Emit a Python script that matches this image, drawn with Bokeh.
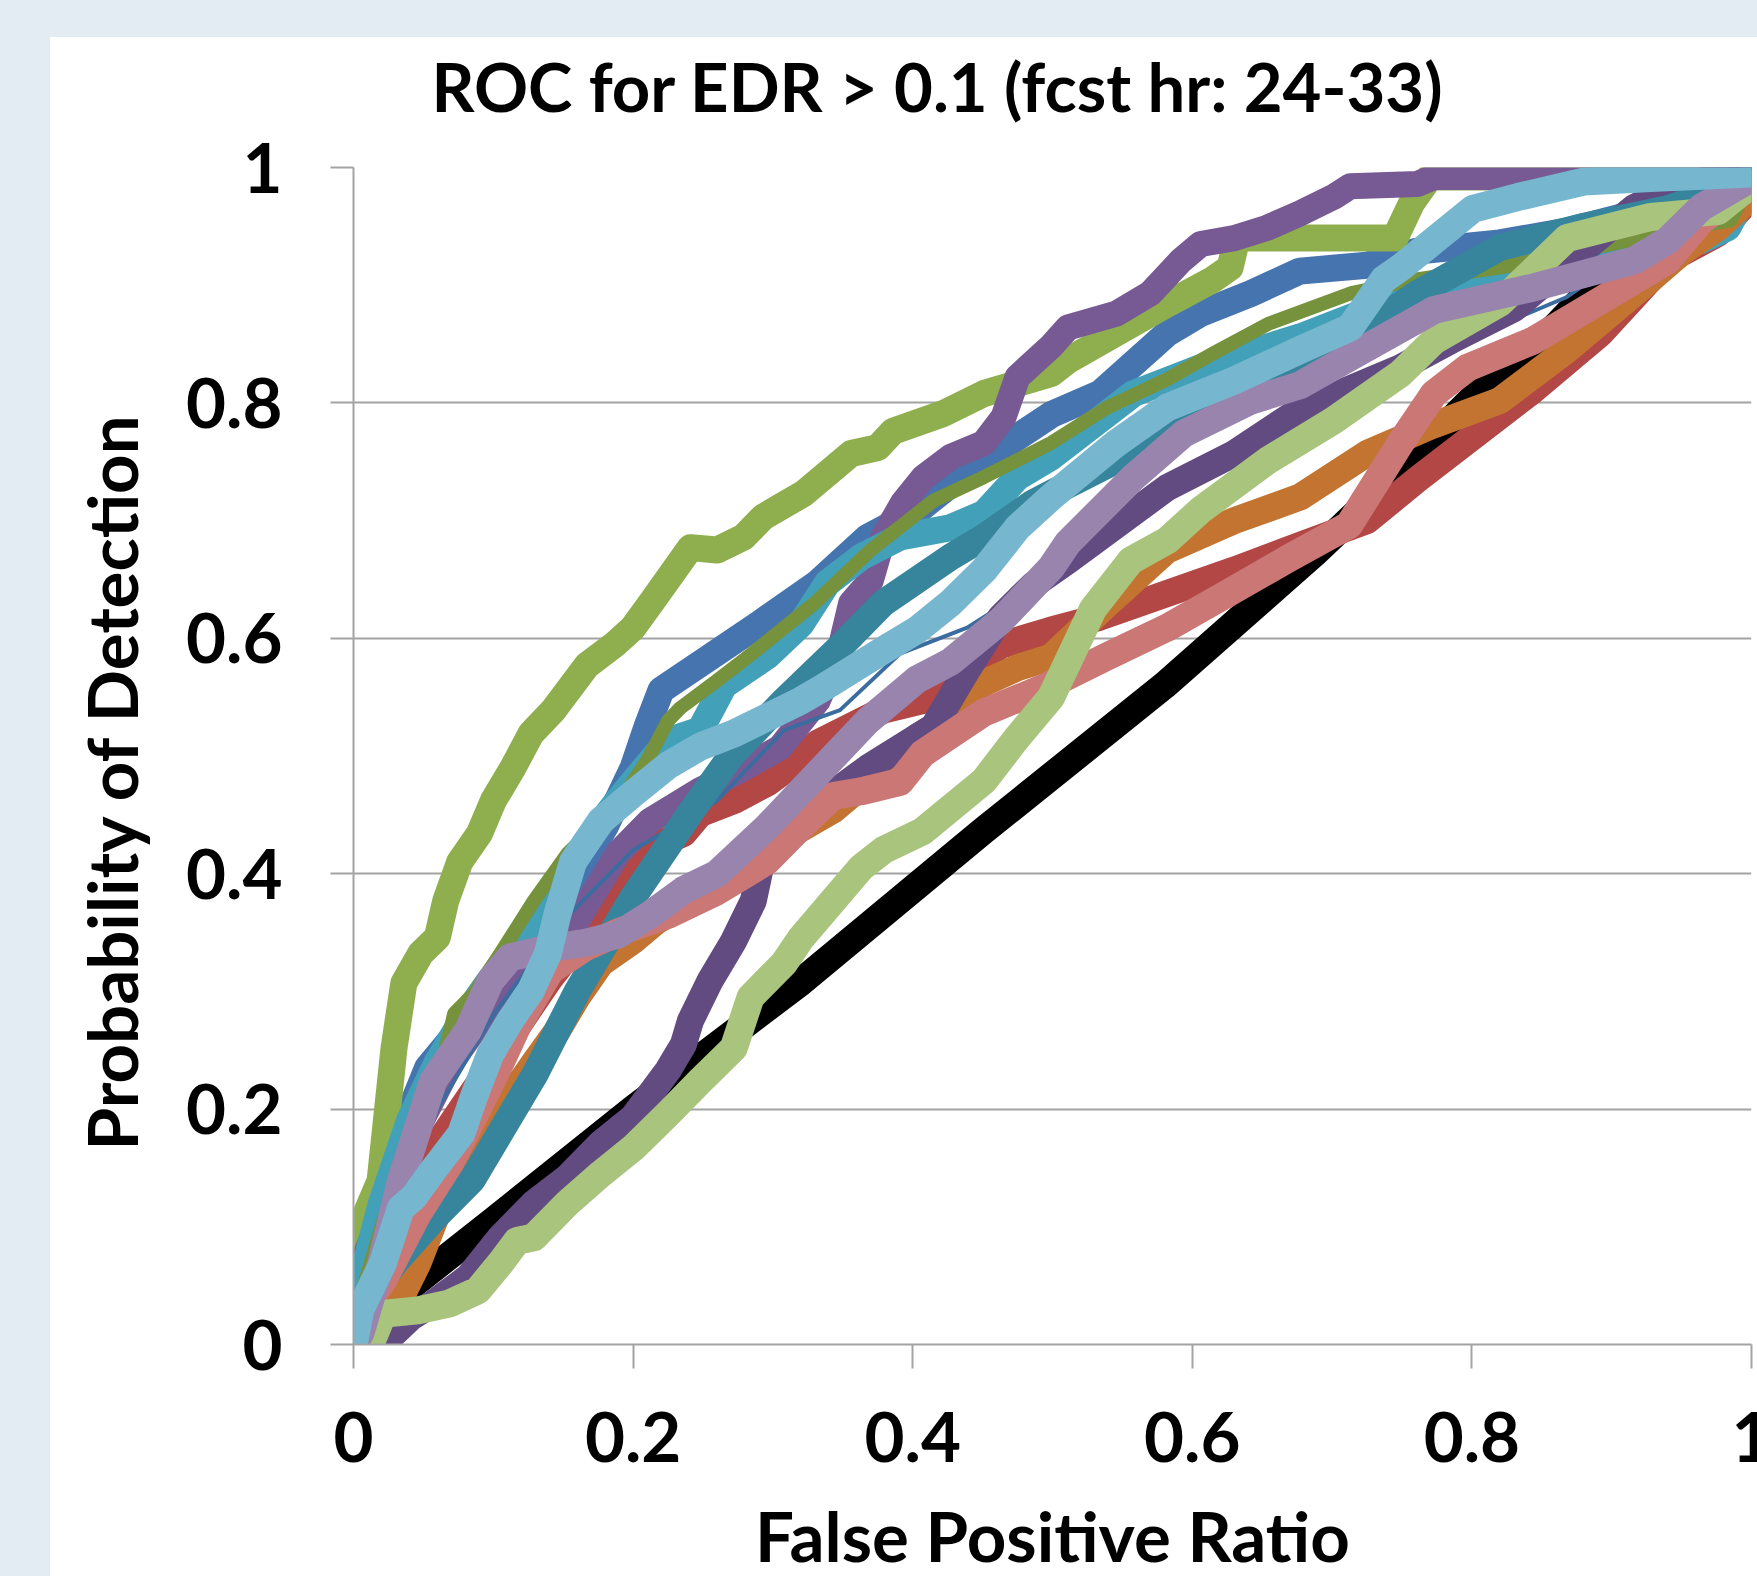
from bokeh.plotting import figure
from bokeh.models import Range1d, FixedTicker, Title
from bokeh.embed import file_html
from bokeh.resources import INLINE

title_text = "ROC for EDR > 0.1 (fcst hr: 24-33)"
x_label = "False Positive Ratio"
y_label = "Probability of Detection"
x_ticks = [0, 0.2, 0.4, 0.6, 0.8, 1]
x_tick_labels = ["0", "0.2", "0.4", "0.6", "0.8", "1"]
y_ticks = [0, 0.2, 0.4, 0.6, 0.8, 1]
y_tick_labels = ["0", "0.2", "0.4", "0.6", "0.8", "1"]

black_x = [0.02, 0.1, 0.2, 0.32, 0.45, 0.58, 0.687, 0.742, 0.81, 0.86, 0.9, 0.95, 1.0]
black_y = [0.03, 0.105, 0.2, 0.308, 0.436, 0.56, 0.672, 0.734, 0.815, 0.865, 0.915, 0.955, 1.0]

blue_x = [0, 0.01, 0.025, 0.041, 0.053, 0.069, 0.084, 0.1, 0.12, 0.15, 0.18, 0.2, 0.21, 0.22, 0.25, 0.29, 0.332, 0.368, 0.403, 0.439, 0.475, 0.499, 0.534, 0.582, 0.606, 0.642, 0.677, 0.725, 0.761, 0.82, 0.868, 0.92, 0.96, 1.0]
blue_y = [0.03, 0.09, 0.15, 0.2, 0.235, 0.258, 0.278, 0.3, 0.33, 0.38, 0.44, 0.49, 0.525, 0.556, 0.58, 0.612, 0.647, 0.686, 0.708, 0.742, 0.771, 0.79, 0.808, 0.859, 0.876, 0.893, 0.912, 0.917, 0.929, 0.936, 0.946, 0.962, 0.98, 1.0]

red_x = [0, 0.03, 0.06, 0.1, 0.14, 0.177, 0.196, 0.212, 0.236, 0.248, 0.272, 0.296, 0.32, 0.332, 0.379, 0.407, 0.427, 0.463, 0.499, 0.534, 0.582, 0.63, 0.677, 0.725, 0.761, 0.797, 0.844, 0.892, 0.94, 0.976, 1.0]
red_y = [0.02, 0.1, 0.17, 0.24, 0.31, 0.366, 0.411, 0.422, 0.434, 0.451, 0.462, 0.477, 0.498, 0.511, 0.539, 0.547, 0.564, 0.594, 0.607, 0.618, 0.638, 0.658, 0.679, 0.7, 0.735, 0.768, 0.811, 0.859, 0.921, 0.944, 0.975]

green_x = [0, 0.005, 0.019, 0.029, 0.036, 0.048, 0.06, 0.066, 0.076, 0.09, 0.1, 0.114, 0.127, 0.143, 0.167, 0.187, 0.2, 0.214, 0.241, 0.26, 0.279, 0.293, 0.322, 0.356, 0.375, 0.386, 0.422, 0.451, 0.499, 0.511, 0.582, 0.615, 0.627, 0.632, 0.745, 0.757, 0.77, 1.0]
green_y = [0.03, 0.1, 0.139, 0.252, 0.307, 0.332, 0.346, 0.377, 0.41, 0.434, 0.462, 0.49, 0.519, 0.539, 0.577, 0.595, 0.609, 0.632, 0.677, 0.675, 0.686, 0.703, 0.723, 0.757, 0.762, 0.776, 0.791, 0.808, 0.825, 0.836, 0.884, 0.905, 0.915, 0.94, 0.94, 0.97, 0.992, 0.992]

purple_x = [0, 0.01, 0.02, 0.04, 0.07, 0.1, 0.13, 0.16, 0.189, 0.212, 0.248, 0.272, 0.305, 0.332, 0.348, 0.356, 0.37, 0.379, 0.393, 0.408, 0.427, 0.451, 0.465, 0.475, 0.499, 0.511, 0.546, 0.57, 0.592, 0.606, 0.63, 0.654, 0.677, 0.701, 0.713, 0.761, 0.773, 0.79, 1.0]
purple_y = [0.03, 0.08, 0.11, 0.17, 0.24, 0.29, 0.33, 0.36, 0.417, 0.445, 0.471, 0.485, 0.507, 0.547, 0.59, 0.63, 0.649, 0.686, 0.715, 0.737, 0.754, 0.766, 0.788, 0.822, 0.848, 0.864, 0.876, 0.893, 0.921, 0.935, 0.94, 0.949, 0.961, 0.975, 0.984, 0.986, 0.992, 0.992, 0.992]

teal_x = [0, 0.02, 0.04, 0.06, 0.08, 0.096, 0.112, 0.129, 0.148, 0.167, 0.189, 0.205, 0.225, 0.248, 0.265, 0.296, 0.32, 0.339, 0.363, 0.391, 0.427, 0.451, 0.475, 0.499, 0.558, 0.606, 0.677, 0.725, 0.773, 0.82, 0.868, 0.94, 0.964, 0.983, 1.0]
teal_y = [0.03, 0.12, 0.19, 0.24, 0.28, 0.307, 0.332, 0.354, 0.392, 0.428, 0.462, 0.485, 0.513, 0.522, 0.56, 0.585, 0.612, 0.647, 0.669, 0.686, 0.694, 0.706, 0.737, 0.754, 0.808, 0.83, 0.856, 0.878, 0.893, 0.915, 0.932, 0.932, 0.938, 0.949, 0.986]

orange_x = [0.02, 0.034, 0.046, 0.069, 0.093, 0.112, 0.129, 0.146, 0.16, 0.177, 0.2, 0.217, 0.26, 0.308, 0.343, 0.368, 0.391, 0.403, 0.427, 0.451, 0.475, 0.499, 0.54, 0.582, 0.63, 0.677, 0.725, 0.77, 0.82, 0.868, 0.916, 0.951, 0.976, 1.0]
orange_y = [0.02, 0.04, 0.069, 0.139, 0.167, 0.21, 0.239, 0.267, 0.295, 0.324, 0.343, 0.36, 0.39, 0.43, 0.454, 0.479, 0.496, 0.516, 0.533, 0.562, 0.575, 0.584, 0.63, 0.675, 0.7, 0.72, 0.757, 0.78, 0.802, 0.845, 0.893, 0.929, 0.949, 0.975]

tblue_x = [0, 0.03, 0.06, 0.1, 0.15, 0.2, 0.26, 0.308, 0.348, 0.391, 0.439, 0.5, 0.55, 0.58, 0.606, 0.65, 0.701, 0.737, 0.773, 0.82, 0.868, 0.892, 0.94, 1.0]
tblue_y = [0.02, 0.12, 0.2, 0.28, 0.36, 0.42, 0.462, 0.522, 0.539, 0.587, 0.609, 0.655, 0.705, 0.735, 0.748, 0.77, 0.791, 0.811, 0.836, 0.866, 0.89, 0.91, 0.94, 0.99]

olive_x = [0, 0.02, 0.04, 0.062, 0.072, 0.086, 0.105, 0.129, 0.153, 0.177, 0.191, 0.21, 0.225, 0.234, 0.26, 0.284, 0.33, 0.37, 0.415, 0.451, 0.499, 0.539, 0.582, 0.615, 0.654, 0.713, 0.76, 0.82, 0.88, 0.94, 0.985, 1.0]
olive_y = [0.02, 0.1, 0.17, 0.232, 0.281, 0.298, 0.332, 0.377, 0.417, 0.445, 0.462, 0.496, 0.53, 0.541, 0.564, 0.586, 0.63, 0.675, 0.717, 0.737, 0.766, 0.796, 0.82, 0.842, 0.867, 0.893, 0.905, 0.915, 0.93, 0.945, 0.955, 0.99]

dpurple_x = [0.015, 0.025, 0.041, 0.057, 0.082, 0.105, 0.129, 0.153, 0.177, 0.2, 0.225, 0.236, 0.241, 0.255, 0.272, 0.286, 0.291, 0.308, 0.32, 0.345, 0.368, 0.415, 0.44, 0.463, 0.486, 0.511, 0.582, 0.63, 0.677, 0.749, 0.785, 0.83, 0.87, 0.916, 0.94, 0.956, 1.0]
dpurple_y = [0.0, 0.005, 0.023, 0.035, 0.057, 0.091, 0.12, 0.142, 0.171, 0.193, 0.233, 0.255, 0.275, 0.309, 0.343, 0.377, 0.405, 0.434, 0.448, 0.47, 0.49, 0.525, 0.575, 0.618, 0.645, 0.666, 0.728, 0.757, 0.794, 0.83, 0.853, 0.88, 0.92, 0.966, 0.98, 0.986, 1.0]

dteal_x = [0, 0.03, 0.06, 0.085, 0.1, 0.13, 0.16, 0.2, 0.24, 0.27, 0.308, 0.35, 0.379, 0.427, 0.451, 0.486, 0.499, 0.57, 0.649, 0.677, 0.725, 0.761, 0.82, 0.88, 0.94, 1.0]
dteal_y = [0.02, 0.07, 0.11, 0.14, 0.17, 0.23, 0.3, 0.38, 0.45, 0.5, 0.547, 0.595, 0.63, 0.669, 0.686, 0.715, 0.723, 0.766, 0.808, 0.83, 0.864, 0.893, 0.932, 0.95, 0.965, 0.99]

salmon_x = [0, 0.021, 0.046, 0.069, 0.093, 0.105, 0.117, 0.141, 0.165, 0.189, 0.225, 0.26, 0.296, 0.32, 0.343, 0.363, 0.391, 0.407, 0.451, 0.494, 0.538, 0.582, 0.625, 0.669, 0.712, 0.749, 0.773, 0.797, 0.844, 0.892, 0.94, 0.964, 1.0]
salmon_y = [0.02, 0.054, 0.111, 0.154, 0.21, 0.239, 0.27, 0.318, 0.337, 0.35, 0.365, 0.385, 0.411, 0.44, 0.466, 0.47, 0.478, 0.502, 0.537, 0.558, 0.584, 0.609, 0.638, 0.668, 0.696, 0.766, 0.808, 0.83, 0.853, 0.887, 0.921, 0.955, 0.985]

lgreen_x = [0.012, 0.021, 0.046, 0.069, 0.089, 0.105, 0.117, 0.129, 0.153, 0.177, 0.2, 0.225, 0.248, 0.272, 0.284, 0.308, 0.32, 0.363, 0.379, 0.407, 0.451, 0.475, 0.499, 0.529, 0.556, 0.582, 0.606, 0.654, 0.701, 0.749, 0.773, 0.82, 0.868, 0.928, 0.976, 1.0]
lgreen_y = [0.0, 0.026, 0.029, 0.035, 0.046, 0.069, 0.088, 0.091, 0.12, 0.145, 0.167, 0.196, 0.224, 0.252, 0.295, 0.324, 0.345, 0.405, 0.42, 0.436, 0.479, 0.516, 0.55, 0.625, 0.666, 0.683, 0.709, 0.751, 0.785, 0.825, 0.853, 0.885, 0.94, 0.958, 0.963, 0.986]

lpurple_x = [0, 0.005, 0.02, 0.034, 0.057, 0.082, 0.098, 0.112, 0.141, 0.165, 0.189, 0.212, 0.236, 0.26, 0.296, 0.332, 0.368, 0.403, 0.427, 0.463, 0.499, 0.511, 0.558, 0.594, 0.642, 0.677, 0.725, 0.773, 0.844, 0.916, 0.94, 0.964, 1.0]
lpurple_y = [0.0, 0.01, 0.07, 0.139, 0.224, 0.267, 0.309, 0.329, 0.337, 0.341, 0.348, 0.365, 0.386, 0.4, 0.44, 0.485, 0.53, 0.565, 0.58, 0.615, 0.66, 0.681, 0.737, 0.774, 0.802, 0.815, 0.847, 0.879, 0.898, 0.921, 0.938, 0.966, 0.991]

lblue_x = [0, 0.005, 0.021, 0.034, 0.043, 0.057, 0.077, 0.086, 0.098, 0.112, 0.127, 0.139, 0.146, 0.157, 0.177, 0.2, 0.225, 0.248, 0.272, 0.291, 0.32, 0.336, 0.379, 0.403, 0.427, 0.451, 0.475, 0.499, 0.546, 0.582, 0.63, 0.677, 0.713, 0.737, 0.749, 0.773, 0.801, 0.833, 0.88, 0.928, 1.0]
lblue_y = [0.0, 0.03, 0.069, 0.116, 0.125, 0.148, 0.179, 0.21, 0.247, 0.275, 0.301, 0.332, 0.366, 0.41, 0.445, 0.468, 0.492, 0.508, 0.519, 0.53, 0.547, 0.558, 0.59, 0.607, 0.63, 0.658, 0.694, 0.72, 0.766, 0.796, 0.819, 0.845, 0.864, 0.905, 0.915, 0.938, 0.965, 0.975, 0.988, 0.991, 0.995]

series = [
    (black_x, black_y, "#000000", 28),
    (blue_x, blue_y, "#4674AE", 27),
    (red_x, red_y, "#B24745", 27),
    (green_x, green_y, "#8FAF4E", 27),
    (purple_x, purple_y, "#775A94", 26),
    (teal_x, teal_y, "#42A0B8", 27),
    (orange_x, orange_y, "#C37431", 27),
    (tblue_x, tblue_y, "#3A6C9F", 4),
    (olive_x, olive_y, "#76923C", 14),
    (dpurple_x, dpurple_y, "#624B81", 27),
    (dteal_x, dteal_y, "#36859C", 27),
    (salmon_x, salmon_y, "#CA7776", 28),
    (lgreen_x, lgreen_y, "#A9C47D", 28),
    (lpurple_x, lpurple_y, "#9984AE", 28),
    (lblue_x, lblue_y, "#77B6CF", 28),
]

GRID = "#a3a3a3"
FONT = "Lato"

# canvas at the window's top-left; frame spans 353..1751 x 167..1344 px
p = figure(width=1797, height=1636, output_backend="svg", toolbar_location=None,
           x_range=Range1d(0, 1), y_range=Range1d(0, 1),
           min_border_left=353, min_border_right=46, min_border_top=167, min_border_bottom=292)
p.background_fill_color = "white"
p.border_fill_color = "white"
p.outline_line_color = None

p.title.text = title_text
p.title.text_font = FONT
p.title.text_font_style = "bold"
p.title.text_font_size = "67px"
p.title.text_color = "black"
p.title.align = "left"
p.title.offset = 78
p.title.standoff = 83

for ax, ticks, labels in ((p.xaxis[0], x_ticks, x_tick_labels), (p.yaxis[0], y_ticks, y_tick_labels)):
    ax.ticker = FixedTicker(ticks=ticks)
    ax.major_label_overrides = {t: l for t, l in zip(ticks, labels)}
    ax.minor_tick_line_color = None
    ax.major_tick_in = 0
    ax.axis_line_color = GRID
    ax.axis_line_width = 2
    ax.major_tick_line_color = GRID
    ax.major_tick_line_width = 2
    ax.major_label_text_font = FONT
    ax.major_label_text_font_style = "bold"
    ax.major_label_text_font_size = "69px"
    ax.major_label_text_color = "black"

p.xaxis.axis_label = x_label
p.xaxis.axis_label_text_font = FONT
p.xaxis.axis_label_text_font_style = "bold"
p.xaxis.axis_label_text_font_size = "69px"
p.xaxis.axis_label_text_color = "black"
p.xaxis.major_tick_out = 24
p.yaxis.major_tick_out = 23
p.xaxis.major_label_standoff = 43
p.yaxis.major_label_standoff = 48
p.xaxis.axis_label_standoff = 29

ytitle = Title(text=y_label, align="left", offset=194, standoff=62,
               text_font=FONT, text_font_style="bold", text_font_size="69px", text_color="black")
p.add_layout(ytitle, "left")

p.xgrid.visible = False
p.ygrid.grid_line_color = GRID
p.ygrid.grid_line_width = 2

for xs, ys, color, w in series:
    p.line(xs, ys, line_color=color, line_width=w, line_join="round", line_cap="round")

html = file_html(p, INLINE)
css = ("<style>html,body{margin:0 !important;padding:0 !important;overflow:hidden !important;background-color:#ffffff;}"
       "body::before{content:'';position:fixed;left:0;top:0;width:100%;height:37px;background-color:#e4ecf3;"
       "z-index:2147483647;pointer-events:none;}"
       "body::after{content:'';position:fixed;left:0;top:0;width:50px;height:100%;background-color:#e4ecf3;"
       "z-index:2147483647;pointer-events:none;}</style>")
html = html.replace("</head>", css + "</head>", 1)
open("out.html", "w").write(html)
